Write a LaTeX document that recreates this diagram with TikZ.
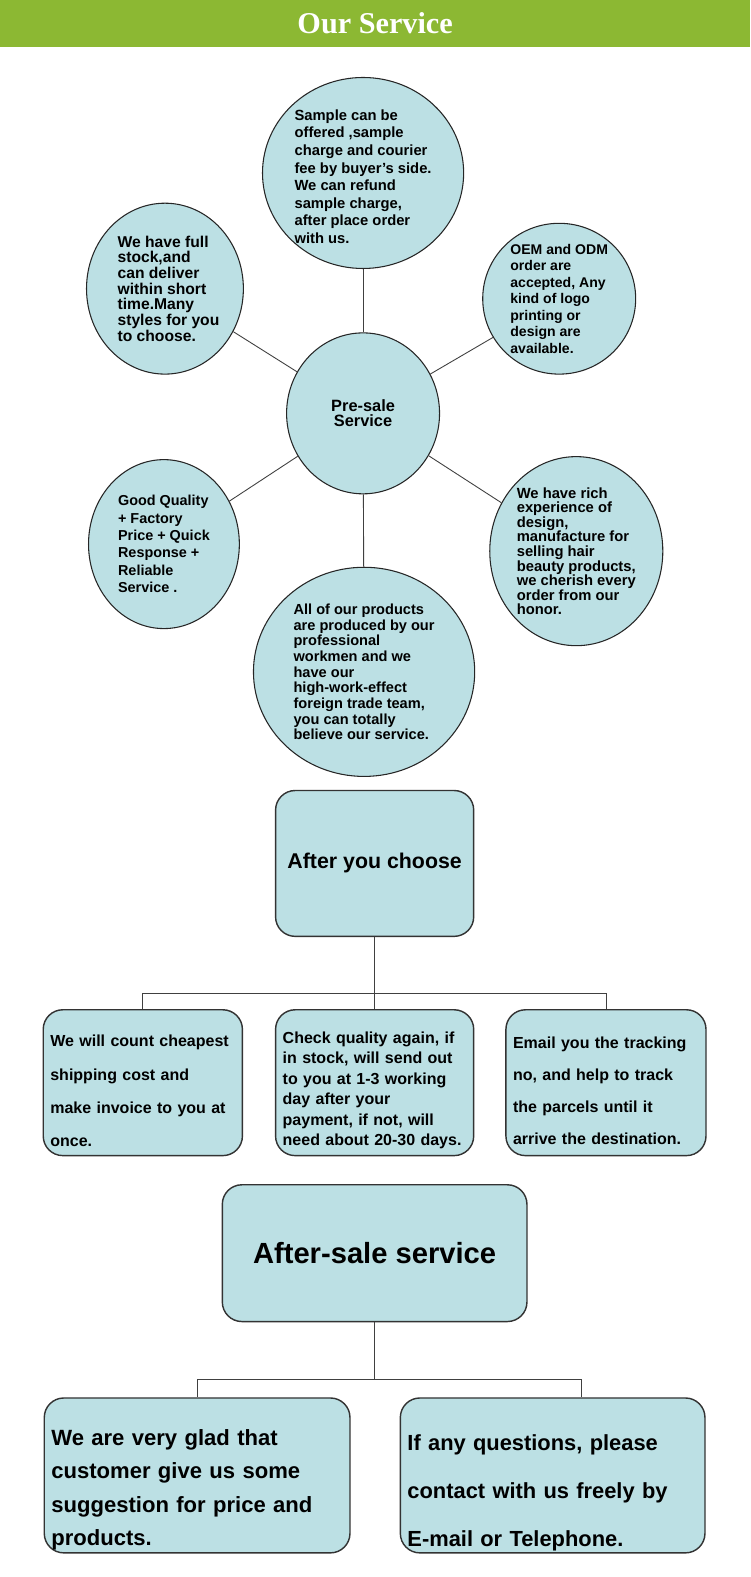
\documentclass[tikz,border=0pt]{standalone}
\usepackage{fontspec}
\setmainfont{Liberation Sans}
\newfontfamily\titlefont{Liberation Serif}
\usetikzlibrary{shapes.geometric}
\definecolor{bargreen}{RGB}{140,184,51}
\definecolor{paleblue}{RGB}{188,224,228}

\begin{document}
\begin{tikzpicture}[x=0.5655pt, y=-0.5655pt,
  bubble/.style={ellipse, draw=black!85, fill=paleblue, line width=0.6pt, inner sep=0pt},
  bubtext/.style={align=left, inner sep=0pt},
  infobox/.style={rectangle, rounded corners=11pt, draw=black!80, fill=paleblue,
    line width=0.8pt, align=left, inner xsep=4pt, inner ysep=0pt, minimum height=82pt},
  link/.style={draw=black!75, line width=0.5pt}]
\useasboundingbox (0,0) rectangle (746,1568);

% title bar
\fill[bargreen] (0,0) rectangle (746,47);
\node[text=white, font=\titlefont\bfseries\fontsize{17}{20}\selectfont] (title) at (373,23) {Our Service};

% pre-sale bubbles
\node[bubble, minimum width=86pt, minimum height=90.5pt] (pre) at (361,411) {};
\node[bubble, minimum width=113.1pt, minimum height=107.4pt] (top) at (361,172) {};
\node[bubble, minimum width=88.2pt, minimum height=96.1pt] (stock) at (164,287) {};
\node[bubble, minimum width=86pt, minimum height=84.8pt] (oem) at (556,297) {};
\node[bubble, minimum width=84.8pt, minimum height=95pt] (quality) at (163,541) {};
\node[bubble, minimum width=97.3pt, minimum height=106.3pt] (rich) at (573,548) {};
\node[bubble, minimum width=124.4pt, minimum height=117.6pt] (team) at (362,668) {};

\draw[link] (pre) -- (top);
\draw[link] (pre) -- (stock);
\draw[link] (pre) -- (oem);
\draw[link] (pre) -- (quality);
\draw[link] (pre) -- (rich);
\draw[link] (pre) -- (team);

\node[align=center, inner sep=0pt, font=\bfseries\fontsize{9.2}{8.6}\selectfont] at (pre) {Pre-sale\\Service};
\node[bubtext, font=\bfseries\fontsize{8.3}{9.9}\selectfont] at ([yshift=-2pt]top) {Sample can be\\offered ,sample\\charge and courier\\fee by buyer's side.\\We can refund\\sample charge,\\after place order\\with us.};
\node[bubtext, font=\bfseries\fontsize{8.8}{8.8}\selectfont] at ([xshift=2pt]stock) {We have full\\stock,and\\can deliver\\within short\\time.Many\\styles for you\\to choose.};
\node[bubtext, font=\bfseries\fontsize{7.9}{9.3}\selectfont] at (oem) {OEM and ODM\\order are\\accepted, Any\\kind of logo\\printing or\\design are\\available.};
\node[bubtext, font=\bfseries\fontsize{8.1}{9.8}\selectfont] at (quality) {Good Quality\\+ Factory\\Price + Quick\\Response +\\Reliable\\Service .};
\node[bubtext, font=\bfseries\fontsize{8.3}{8.2}\selectfont] at (rich) {We have rich\\experience of\\design,\\manufacture for\\selling hair\\beauty products,\\we cherish every\\order from our\\honor.};
\node[bubtext, font=\bfseries\fontsize{8.2}{8.8}\selectfont] at (team) {All of our products\\are produced by our\\professional\\workmen and we\\have our\\high-work-effect\\foreign trade team,\\you can totally\\believe our service.};

% after you choose
\node[infobox, align=center, minimum width=111.4pt, font=\bfseries\fontsize{12}{14}\selectfont] (choose) at (372.5,858.5) {After you choose};
\coordinate (split1) at (372.5,988);
\node[infobox, text width=104pt, text height=16pt, font=\bfseries\fontsize{9}{18.7}\selectfont] (ship) at (142,1076.5) {We will count cheapest\\shipping cost and\\make invoice to you at\\once.};
\node[infobox, text width=103.4pt, text height=15pt, font=\bfseries\fontsize{9}{11.5}\selectfont] (check) at (372.5,1076.5) {Check quality again, if\\in stock, will send out\\to you at 1-3 working\\day after your\\payment, if not, will\\need about 20-30 days.};
\node[infobox, text width=104.5pt, text height=16pt, font=\bfseries\fontsize{9}{18}\selectfont] (track) at (602.5,1076.5) {Email you the tracking\\no, and help to track\\the parcels until it\\arrive the destination.};

\draw[link] (choose) -- (split1);
\draw[link] (ship.north) |- (split1) -| (track.north);
\draw[link] (check.north) -- (split1);

% after-sale service
\node[infobox, align=center, minimum width=171.3pt, minimum height=76.9pt, font=\bfseries\fontsize{16.4}{19}\selectfont] (aftersale) at (372.5,1246) {After-sale service};
\coordinate (split2) at (372.5,1372);
\node[infobox, text width=163.9pt, text height=25pt, minimum height=87.1pt, font=\bfseries\fontsize{12.4}{18.7}\selectfont] (glad) at (196,1467) {We are very glad that\\customer give us some\\suggestion for price and\\products.};
\node[infobox, text width=163.3pt, text height=29pt, minimum height=87.1pt, font=\bfseries\fontsize{12.3}{27}\selectfont] (contact) at (549.5,1467) {If any questions, please\\contact with us freely by\\E-mail or Telephone.};

\draw[link] (aftersale) -- (split2);
\draw[link] (glad.north) |- (split2) -| ([xshift=16.1pt]contact.north);
\end{tikzpicture}
\end{document}
